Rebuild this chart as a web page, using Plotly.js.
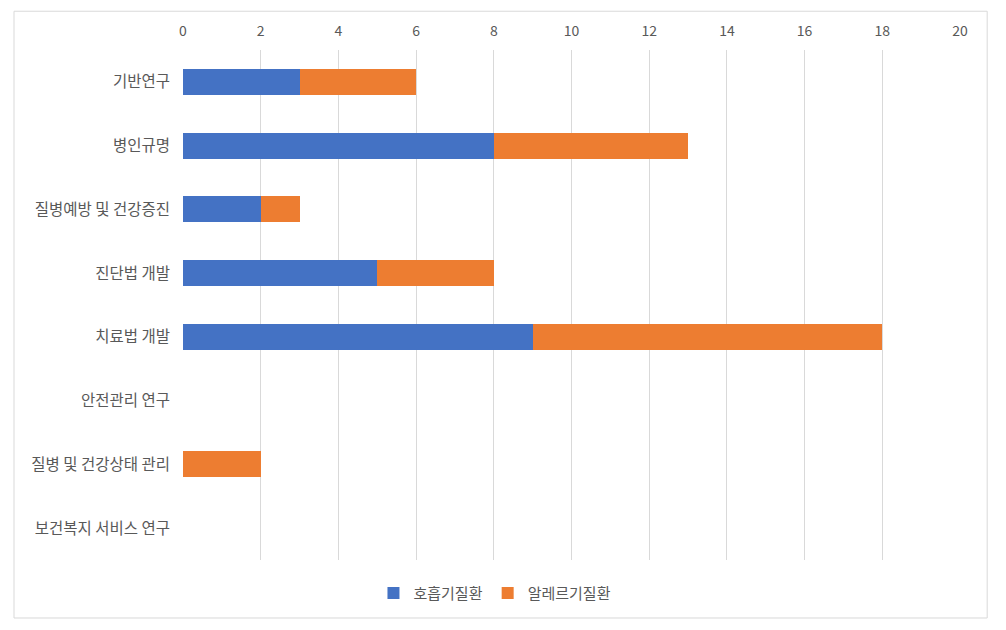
<!DOCTYPE html>
<html><head><meta charset="utf-8">
<script src="https://cdn.plot.ly/plotly-3.0.1.min.js"></script>
<style>html,body{margin:0;padding:0;background:#fff}</style>
</head><body>
<div id="chart" style="width:1006px;height:630px"></div>
<script>
const categories = ["기반연구","병인규명","질병예방 및 건강증진","진단법 개발","치료법 개발","안전관리 연구","질병 및 건강상태 관리","보건복지 서비스 연구"];
const respiratory = [3, 8, 2, 5, 9, 0, 0, 0];
const allergy = [3, 5, 1, 3, 9, 0, 2, 0];
const seriesNames = ["호흡기질환","알레르기질환"];
const xTicks = [0,2,4,6,8,10,12,14,16,18,20];

const font = {family: "'Noto Sans CJK KR', 'Noto Sans', sans-serif", color: "#595959"};
const traces = [
  {type:'bar', orientation:'h', name: seriesNames[0], y: categories, x: respiratory, marker:{color:'#4472C4'}, hoverinfo:'x+name'},
  {type:'bar', orientation:'h', name: seriesNames[1], y: categories, x: allergy, marker:{color:'#ED7D31'}, hoverinfo:'x+name'}
];
const layout = {
  width:1006, height:630,
  barmode:'stack', bargap:0.59,
  paper_bgcolor:'#fff', plot_bgcolor:'#fff',
  margin:{l:183, r:46, t:50, b:70},
  font: Object.assign({size:13}, font),
  xaxis:{side:'top', range:[0,20], tickvals:xTicks, ticktext:xTicks.map(String), showgrid:true, gridcolor:'#d9d9d9', gridwidth:1, zeroline:false, showline:false, ticks:'', ticklabelstandoff:10, tickfont:Object.assign({size:14}, font), fixedrange:true},
  yaxis:{type:'category', autorange:'reversed', showgrid:false, zeroline:false, showline:false, ticks:'', ticklabelstandoff:12, tickfont:Object.assign({size:15.5}, font), fixedrange:true},
  legend:{orientation:'h', x:0.4015, xanchor:'center', y:-0.065, yanchor:'middle', font:Object.assign({size:15}, font), traceorder:'normal', itemwidth:30},
  showlegend:true,
  shapes:[{type:'rect', xref:'paper', yref:'paper', x0:-0.2175, x1:1.035, y0:-0.1137, y1:1.076, line:{color:'#d9d9d9', width:1}, fillcolor:'rgba(0,0,0,0)', layer:'below'}]
};
Plotly.newPlot('chart', traces, layout, {displayModeBar:false, staticPlot:true});
</script>
</body></html>
